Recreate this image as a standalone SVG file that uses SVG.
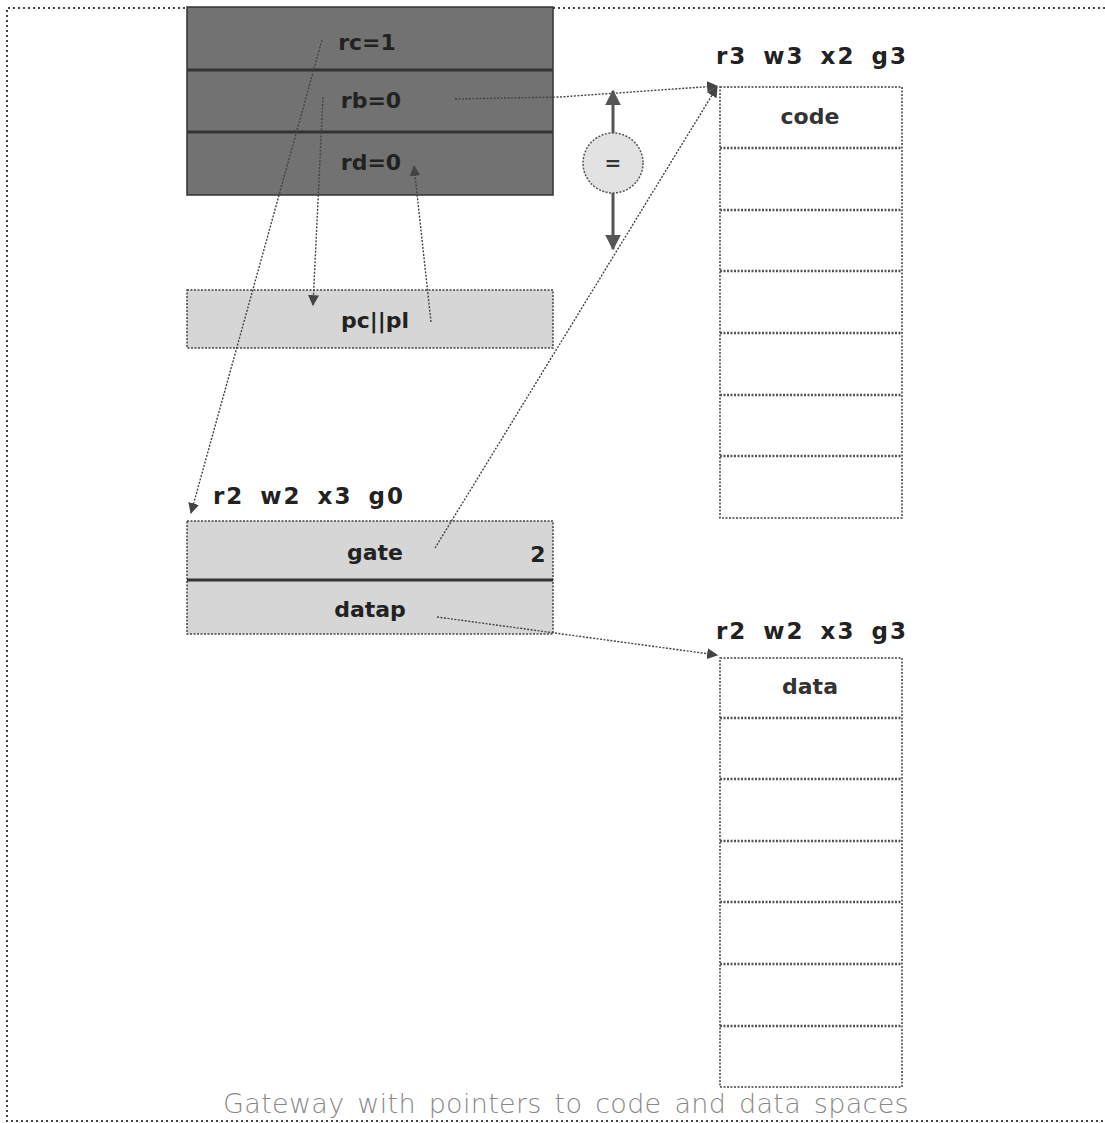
<svg xmlns="http://www.w3.org/2000/svg" width="1105" height="1123" viewBox="0 0 1105 1123">
<style>
.lbl{font-family:"DejaVu Sans","Liberation Sans",sans-serif;font-weight:bold;font-size:22px;fill:#222}
.tag{font-family:"DejaVu Sans","Liberation Sans",sans-serif;font-weight:bold;font-size:23px;fill:#222;letter-spacing:2px;word-spacing:6px}
.cap{font-family:"DejaVu Sans","Liberation Sans",sans-serif;font-weight:200;font-size:27px;fill:#888;letter-spacing:0.3px;word-spacing:4px}
.dark{fill:#727272;stroke:#333;stroke-width:1.5}
.light{fill:#d6d6d6;stroke:#444;stroke-width:1.5;stroke-dasharray:2 1.5}
.cell{fill:#fff;stroke:#444;stroke-width:1.5;stroke-dasharray:2 1.5}
.div{stroke:#333;stroke-width:3}
.cdiv{stroke:#555;stroke-width:2.5;stroke-dasharray:2 1.5}
.conn{fill:none;stroke:#444;stroke-width:1.4;stroke-dasharray:2 1.5}
.dbl{fill:none;stroke:#555;stroke-width:3}
.border{fill:none;stroke:#444;stroke-width:2;stroke-dasharray:2 3}
</style>
<defs>
<marker id="ah" viewBox="0 0 10 10" refX="9" refY="5" markerWidth="11" markerHeight="11" markerUnits="userSpaceOnUse" orient="auto"><path d="M0,0 L10,5 L0,10 z" fill="#444"/></marker>
<marker id="ahb" viewBox="0 0 10 10" refX="9" refY="5" markerWidth="16" markerHeight="16" markerUnits="userSpaceOnUse" orient="auto"><path d="M0,0 L10,5 L0,10 z" fill="#555"/></marker>
</defs>
<rect width="1105" height="1123" fill="#fff"/>
<path class="border" d="M1105,8 L7,8 L7,1121 L1105,1121"/>

<g id="regs">
<rect class="dark" x="187" y="7" width="366" height="188"/>
<line class="div" x1="187" y1="70" x2="553" y2="70"/>
<line class="div" x1="187" y1="132" x2="553" y2="132"/>
<text class="lbl" x="367" y="50" text-anchor="middle">rc=1</text>
<text class="lbl" x="371" y="108" text-anchor="middle">rb=0</text>
<text class="lbl" x="371" y="170" text-anchor="middle">rd=0</text>
</g>

<g id="pcpl">
<rect class="light" x="187" y="290" width="366" height="58"/>
<text class="lbl" x="375" y="328" text-anchor="middle">pc||pl</text>
</g>

<g id="gateway">
<text class="tag" x="213" y="504">r2 w2 x3 g0</text>
<rect class="light" x="187" y="521" width="366" height="113"/>
<line class="div" x1="187" y1="580" x2="553" y2="580"/>
<text class="lbl" x="375" y="560" text-anchor="middle">gate</text>
<text class="lbl" x="538" y="562" text-anchor="middle">2</text>
<text class="lbl" x="370" y="617" text-anchor="middle">datap</text>
</g>

<g id="eq">
<circle cx="613" cy="163" r="30" fill="#e2e2e2" stroke="#555" stroke-width="1.5" stroke-dasharray="2 1.5"/>
<text class="lbl" x="613" y="170" text-anchor="middle" style="font-size:20px;fill:#333">=</text>
</g>

<g id="code">
<text class="tag" x="716" y="64">r3 w3 x2 g3</text>
<rect class="cell" x="720" y="87" width="182" height="431"/>
<line class="cdiv" x1="720" y1="148" x2="902" y2="148"/>
<line class="cdiv" x1="720" y1="210" x2="902" y2="210"/>
<line class="cdiv" x1="720" y1="271" x2="902" y2="271"/>
<line class="cdiv" x1="720" y1="333" x2="902" y2="333"/>
<line class="cdiv" x1="720" y1="395" x2="902" y2="395"/>
<line class="cdiv" x1="720" y1="456" x2="902" y2="456"/>
<text class="lbl" x="810" y="124" text-anchor="middle" style="fill:#333">code</text>
</g>

<g id="data">
<text class="tag" x="716" y="639">r2 w2 x3 g3</text>
<rect class="cell" x="720" y="658" width="182" height="429"/>
<line class="cdiv" x1="720" y1="718" x2="902" y2="718"/>
<line class="cdiv" x1="720" y1="779" x2="902" y2="779"/>
<line class="cdiv" x1="720" y1="841" x2="902" y2="841"/>
<line class="cdiv" x1="720" y1="902" x2="902" y2="902"/>
<line class="cdiv" x1="720" y1="964" x2="902" y2="964"/>
<line class="cdiv" x1="720" y1="1026" x2="902" y2="1026"/>
<text class="lbl" x="810" y="694" text-anchor="middle" style="fill:#333">data</text>
</g>

<g id="connectors">
<path class="conn" d="M322,40 L191,513" marker-end="url(#ah)"/>
<path class="conn" d="M323,97 L313,305" marker-end="url(#ah)"/>
<path class="conn" d="M431,322 L414,166" marker-end="url(#ah)"/>
<path class="conn" d="M455,99 L560,97 L717,86" marker-end="url(#ah)"/>
<path class="conn" d="M435,548 L717,87" marker-end="url(#ah)"/>
<path class="conn" d="M437,617 L717,655" marker-end="url(#ah)"/>
<path class="dbl" d="M613,133 L613,91" marker-end="url(#ahb)"/>
<path class="dbl" d="M613,193 L613,249" marker-end="url(#ahb)"/>
</g>

<text class="cap" x="566" y="1113" text-anchor="middle">Gateway with pointers to code and data spaces</text>
</svg>
